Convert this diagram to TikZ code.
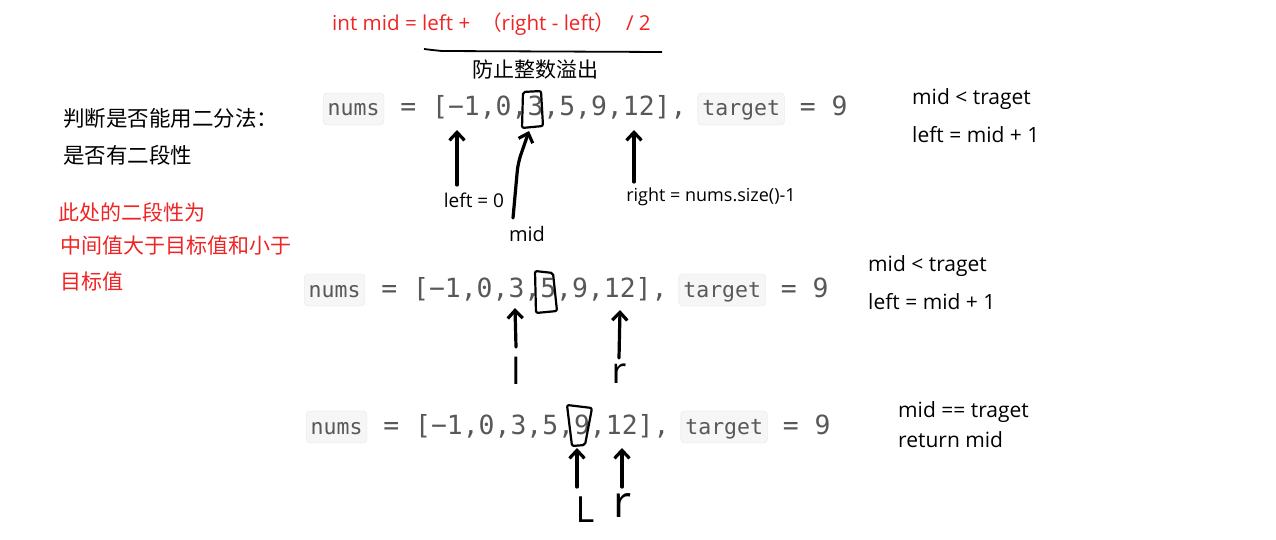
\documentclass[tikz,border=0pt]{standalone}
\usepackage{fontspec}
\setmainfont{Open Sans}
\setmonofont{DejaVu Sans Mono}
\newfontfamily\cjk{Noto Sans CJK SC}
\usetikzlibrary{arrows.meta,positioning}
\definecolor{noteRed}{RGB}{240,36,36}
\definecolor{codeGray}{RGB}{88,88,88}
\definecolor{codeFill}{RGB}{246,246,246}
\definecolor{codeLine}{RGB}{230,230,230}
% one array line: `nums` = [...], `target` = 9
\newcommand{\numsline}[2]{%
    \node[codebox,anchor=west] (nums#1) at (#2) {nums};
    \node[code,right=16pt of nums#1] (arr#1) {= [−1,0,3,5,9,12],};
    \node[codebox,right=11pt of arr#1] (tgt#1) {target};
    \node[code,right=15pt of tgt#1] (val#1) {= 9};
}

\begin{document}
\begin{tikzpicture}[x=1pt,y=-1pt,
    codebox/.style={draw=codeLine,fill=codeFill,rounded corners=4pt,text=codeGray,
        font=\ttfamily\fontsize{21.5}{24}\selectfont,inner xsep=4.5pt,
        minimum height=32pt,text height=15pt,text depth=1pt},
    code/.style={text=codeGray,font=\ttfamily\fontsize{26.4}{28}\selectfont,
        inner sep=0pt,text height=19pt,text depth=5pt},
    cn/.style={font=\cjk\fontsize{21.5}{24}\selectfont,inner sep=0pt,anchor=west},
    note/.style={font=\fontsize{21}{24}\selectfont,inner sep=0pt,anchor=west},
    small/.style={font=\fontsize{19}{22}\selectfont,inner sep=0pt},
    hand/.style={font=\fontsize{36}{40}\selectfont,inner sep=0pt},
    pen/.style={line width=3.2pt,line cap=round,line join=round},
    ptr/.style={pen,-{Straight Barb[length=8pt,width=15pt,line width=3.2pt]}},
    ring/.style={line width=2.2pt,line join=round,rounded corners=2pt}]
    \useasboundingbox[fill=white] (0,0) rectangle (1276,540);

    % formula on top
    \node[noteRed,font=\fontsize{20.6}{24}\selectfont,inner sep=0pt,anchor=west] (formula) at (332,24)
        {int mid = left + \ {\cjk （}right - left{\cjk ）} \ / 2};
    \draw[line width=1.8pt] (424,49) .. controls (432,50) .. (442,51) -- (662,52);
    \node[font=\cjk\fontsize{21}{24}\selectfont,inner sep=0pt] (overflow) at (535,70) {防止整数溢出};

    % left notes
    \node[cn] (check1) at (63,118) {判断是否能用二分法：};
    \node[cn] (check2) at (63,155) {是否有二段性};
    \node[cn,noteRed,font=\cjk\fontsize{21}{24}\selectfont] (hint1) at (58,212) {此处的二段性为};
    \node[cn,noteRed,font=\cjk\fontsize{21}{24}\selectfont] (hint2) at (60,246) {中间值大于目标值和小于};
    \node[cn,noteRed,font=\cjk\fontsize{21}{24}\selectfont] (hint3) at (60,282) {目标值};

    % Row 1: left = 0, right = size-1
    \numsline{1}{323,109}
    \draw[ring] (523,92) -- (541,91) -- (543,126) -- (522,128) -- cycle;
    \coordinate (l1) at (457,185);
    \coordinate (l1t) at (457,130);
    \coordinate (m1) at (513,218);
    \coordinate (m1t) at (529,131);
    \coordinate (r1) at (634,182);
    \coordinate (r1t) at (634,130);
    \draw[ptr] (l1) -- (l1t);
    \draw[ptr,rounded corners=8pt] (m1) -- (518,163) -- (m1t);
    \draw[ptr] (r1) -- (r1t);
    \node[small] (left0) at (474,200) {left = 0};
    \node[font=\fontsize{20}{22}\selectfont,inner sep=0pt] (mid1) at (527,234) {mid};
    \node[small,font=\fontsize{18}{22}\selectfont] (right0) at (711,197) {right = nums.size()-1};
    \node[note] (cmp1) at (912,99) {mid < traget};
    \node[note] (upd1) at (912,135) {left = mid + 1};

    % Row 2: mid moves right
    \numsline{2}{304,290}
    \draw[ring] (535,271) -- (553,273) -- (557,311) -- (536,313) -- cycle;
    \node[hand] (l2) at (516,371) {l};
    \node[hand] (r2) at (619,374) {r};
    \draw[ptr] (l2.north) ++(0,-10) coordinate (l2b) -- (515,308);
    \draw[ptr] (r2.north) ++(0,-6) coordinate (r2b) -- (620,310);
    \node[note] (cmp2) at (868,266) {mid < traget};
    \node[note] (upd2) at (868,302) {left = mid + 1};

    % Row 3: found
    \numsline{3}{306,427}
    \draw[ring] (567,405) -- (592,408) -- (585,445) -- (572,446) -- cycle;
    \node[hand] (l3) at (585,510) {L};
    \node[hand,font=\fontsize{44}{48}\selectfont] (r3) at (622,506) {r};
    \coordinate (l3t) at (577,448);
    \coordinate (r3t) at (622,448);
    \draw[ptr] (577,487) -- (l3t);
    \draw[ptr] (622,487) -- (r3t);
    \node[note] (cmp3) at (898,412) {mid == traget};
    \node[note] (ret3) at (898,440) {return mid};
\end{tikzpicture}
\end{document}
